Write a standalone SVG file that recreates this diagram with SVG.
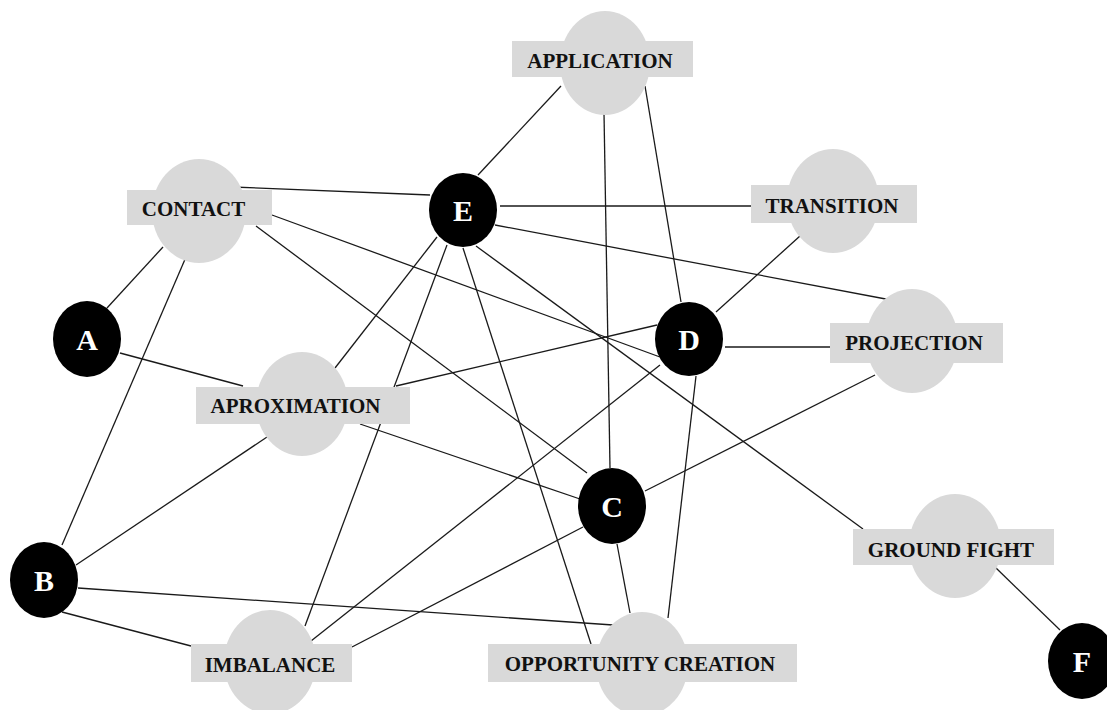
<svg xmlns="http://www.w3.org/2000/svg" width="1107" height="710" viewBox="0 0 1107 710">
<style>
.bg{fill:#ffffff}
.edge{stroke:#1a1a1a;stroke-width:1.3;fill:none}
.gc{fill:#d9d9d9}
.gr{fill:#d9d9d9}
.gt{font-family:"Liberation Serif","Times New Roman",serif;font-weight:bold;font-size:21px;fill:#111;text-anchor:middle}
.bn{fill:#000}
.bt{font-family:"Liberation Serif","Times New Roman",serif;font-weight:bold;font-size:30px;fill:#fff;text-anchor:middle}
</style>
<rect class="bg" x="0" y="0" width="1107" height="710"/>
<g id="connectors">
<line class="edge" x1="232" y1="187" x2="430" y2="195"/>
<line class="edge" x1="163" y1="247" x2="107" y2="308"/>
<line class="edge" x1="186" y1="257" x2="62" y2="545"/>
<line class="edge" x1="256" y1="226" x2="587" y2="473"/>
<line class="edge" x1="272" y1="215" x2="660" y2="357"/>
<line class="edge" x1="120" y1="353" x2="243" y2="386"/>
<line class="edge" x1="478" y1="175" x2="561" y2="86"/>
<line class="edge" x1="604" y1="113" x2="610" y2="468"/>
<line class="edge" x1="645" y1="86" x2="681" y2="302"/>
<line class="edge" x1="500" y1="206" x2="751" y2="206"/>
<line class="edge" x1="495" y1="225" x2="891" y2="300"/>
<line class="edge" x1="800" y1="236" x2="716" y2="312"/>
<line class="edge" x1="725" y1="347" x2="830" y2="347"/>
<line class="edge" x1="875" y1="375" x2="645" y2="491"/>
<line class="edge" x1="437" y1="237" x2="335" y2="368"/>
<line class="edge" x1="447" y1="245" x2="305" y2="626"/>
<line class="edge" x1="463" y1="248" x2="591" y2="644"/>
<line class="edge" x1="476" y1="246" x2="863" y2="529"/>
<line class="edge" x1="396" y1="386" x2="657" y2="325"/>
<line class="edge" x1="360" y1="424" x2="580" y2="499"/>
<line class="edge" x1="270" y1="435" x2="76" y2="565"/>
<line class="edge" x1="660" y1="365" x2="311" y2="641"/>
<line class="edge" x1="583" y1="527" x2="352" y2="647"/>
<line class="edge" x1="78" y1="588" x2="613" y2="625"/>
<line class="edge" x1="62" y1="612" x2="191" y2="646"/>
<line class="edge" x1="617" y1="544" x2="630" y2="613"/>
<line class="edge" x1="696" y1="376" x2="668" y2="618"/>
<line class="edge" x1="995" y1="567" x2="1060" y2="630"/>
</g>
<g id="contact">
<ellipse class="gc" cx="199" cy="211" rx="47" ry="52"/>
<rect class="gr" x="127" y="190" width="145" height="35"/>
<text class="gt" x="193.5" y="216">CONTACT</text>
</g>
<g id="application">
<ellipse class="gc" cx="605" cy="63" rx="45" ry="52"/>
<rect class="gr" x="512" y="41" width="181" height="36"/>
<text class="gt" x="600" y="68">APPLICATION</text>
</g>
<g id="transition">
<ellipse class="gc" cx="833" cy="201" rx="46" ry="52"/>
<rect class="gr" x="751" y="185" width="166" height="38"/>
<text class="gt" x="832" y="213">TRANSITION</text>
</g>
<g id="projection">
<ellipse class="gc" cx="912" cy="341" rx="46" ry="52"/>
<rect class="gr" x="830" y="323" width="173" height="40"/>
<text class="gt" x="914" y="350">PROJECTION</text>
</g>
<g id="aproximation">
<ellipse class="gc" cx="302" cy="404" rx="46" ry="52"/>
<rect class="gr" x="196" y="387" width="214" height="37"/>
<text class="gt" x="295.5" y="413">APROXIMATION</text>
</g>
<g id="imbalance">
<ellipse class="gc" cx="270" cy="662" rx="46" ry="52"/>
<rect class="gr" x="191" y="644" width="161" height="38"/>
<text class="gt" x="270" y="672">IMBALANCE</text>
</g>
<g id="opportunity-creation">
<ellipse class="gc" cx="642" cy="664" rx="46" ry="52"/>
<rect class="gr" x="488" y="644" width="309" height="38"/>
<text class="gt" x="640" y="671">OPPORTUNITY CREATION</text>
</g>
<g id="ground-fight">
<ellipse class="gc" cx="955" cy="546" rx="46" ry="52"/>
<rect class="gr" x="853" y="529" width="201" height="36"/>
<text class="gt" x="951" y="557">GROUND FIGHT</text>
</g>
<g id="node-a">
<ellipse class="bn" cx="87" cy="339" rx="34" ry="38"/>
<text class="bt" x="87" y="350">A</text>
</g>
<g id="node-b">
<ellipse class="bn" cx="44" cy="580" rx="34" ry="38"/>
<text class="bt" x="44" y="591">B</text>
</g>
<g id="node-c">
<ellipse class="bn" cx="612" cy="506" rx="34" ry="38"/>
<text class="bt" x="612" y="517">C</text>
</g>
<g id="node-d">
<ellipse class="bn" cx="689" cy="339" rx="34" ry="37"/>
<text class="bt" x="689" y="350">D</text>
</g>
<g id="node-e">
<ellipse class="bn" cx="463" cy="210" rx="34" ry="37"/>
<text class="bt" x="463" y="221">E</text>
</g>
<g id="node-f">
<ellipse class="bn" cx="1082" cy="661" rx="34" ry="38"/>
<text class="bt" x="1082" y="672">F</text>
</g>
</svg>
